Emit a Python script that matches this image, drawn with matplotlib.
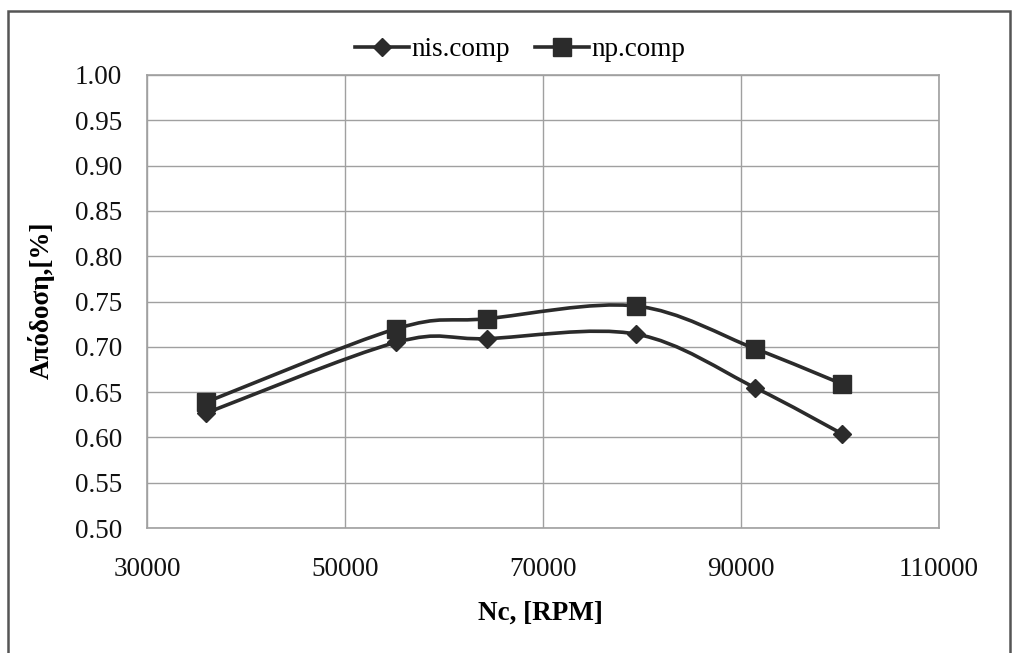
import matplotlib
matplotlib.use("Agg")
import matplotlib.pyplot as plt
from matplotlib.path import Path
from matplotlib.patches import PathPatch, Rectangle
from matplotlib.lines import Line2D
import numpy as np

rpm = [36000, 55200, 64300, 79400, 91400, 100200]
nis_comp = [0.627, 0.705, 0.709, 0.714, 0.655, 0.604]
np_comp = [0.639, 0.720, 0.731, 0.745, 0.698, 0.659]
series_names = ["nis.comp", "np.comp"]
x_ticks = [30000, 50000, 70000, 90000, 110000]
y_ticks = [0.50, 0.55, 0.60, 0.65, 0.70, 0.75, 0.80, 0.85, 0.90, 0.95, 1.00]

plt.rcParams['font.family'] = ['Liberation Serif', 'DejaVu Serif']
FS = 19.5
LC = '#2b2b2b'

fig = plt.figure(figsize=(10.16, 6.53), dpi=100)
ax = fig.add_axes([147/1016, 1 - 528/653, (939-147)/1016, (528-75)/653])

def smooth_path(xs, ys):
    pts = np.column_stack([xs, ys]).astype(float)
    n = len(pts)
    verts = [pts[0]]
    codes = [Path.MOVETO]
    for i in range(n - 1):
        p0 = pts[i - 1] if i > 0 else pts[i]
        p1 = pts[i]
        p2 = pts[i + 1]
        p3 = pts[i + 2] if i + 2 < n else pts[i + 1]
        c1 = p1 + (p2 - p0) / 6.0
        c2 = p2 - (p3 - p1) / 6.0
        verts += [c1, c2, p2]
        codes += [Path.CURVE4] * 3
    return Path(verts, codes)

for ys in (nis_comp, np_comp):
    ax.add_patch(PathPatch(smooth_path(rpm, ys), transform=ax.transData,
                           fill=False, edgecolor=LC, lw=2.6, zorder=3,
                           capstyle='round', joinstyle='round'))

ax.plot(rpm, nis_comp, linestyle='none', marker='D', ms=9.5, color=LC, zorder=4)
ax.plot(rpm, np_comp, linestyle='none', marker='s', ms=12.5, color=LC, zorder=4)

ax.set_xlim(30000, 110000)
ax.set_ylim(0.50, 1.00)
ax.set_xticks(x_ticks)
ax.set_yticks(y_ticks)
ax.set_xticklabels([str(v) for v in x_ticks], fontsize=FS)
ax.set_yticklabels([f"{v:.2f}" for v in y_ticks], fontsize=FS)
ax.tick_params(axis='both', length=0, colors='#111111')
ax.tick_params(axis='x', pad=21)
ax.tick_params(axis='y', pad=18)
ax.grid(True, color='#a0a0a0', lw=1.0)
ax.set_axisbelow(True)
for s in ax.spines.values():
    s.set_color('#a0a0a0')
    s.set_linewidth(1.2)

fig.text(540/1016, 1 - 613/653, "Nc, [RPM]", fontsize=FS, fontweight='bold',
         ha='center', va='center')
fig.text(41/1016, 1 - 300/653, "Απόδοση,[%]", fontsize=FS, fontweight='bold',
         ha='center', va='center', rotation=90)

handles = [Line2D([], [], color=LC, lw=2.6, marker='D', ms=9.5),
           Line2D([], [], color=LC, lw=2.6, marker='s', ms=12.5)]
fig.legend(handles, series_names, loc='center', bbox_to_anchor=(520/1016, 1 - 50/653),
           ncol=2, frameon=False, fontsize=FS, handlelength=2.0, handletextpad=0.1,
           columnspacing=0.9)

fig.add_artist(Rectangle((8/1016, -0.05), (1010-8)/1016, 1.05 - 11/653,
                         transform=fig.transFigure, fill=False,
                         edgecolor='#555555', lw=1.8))

fig.savefig("out.png", dpi=100)
